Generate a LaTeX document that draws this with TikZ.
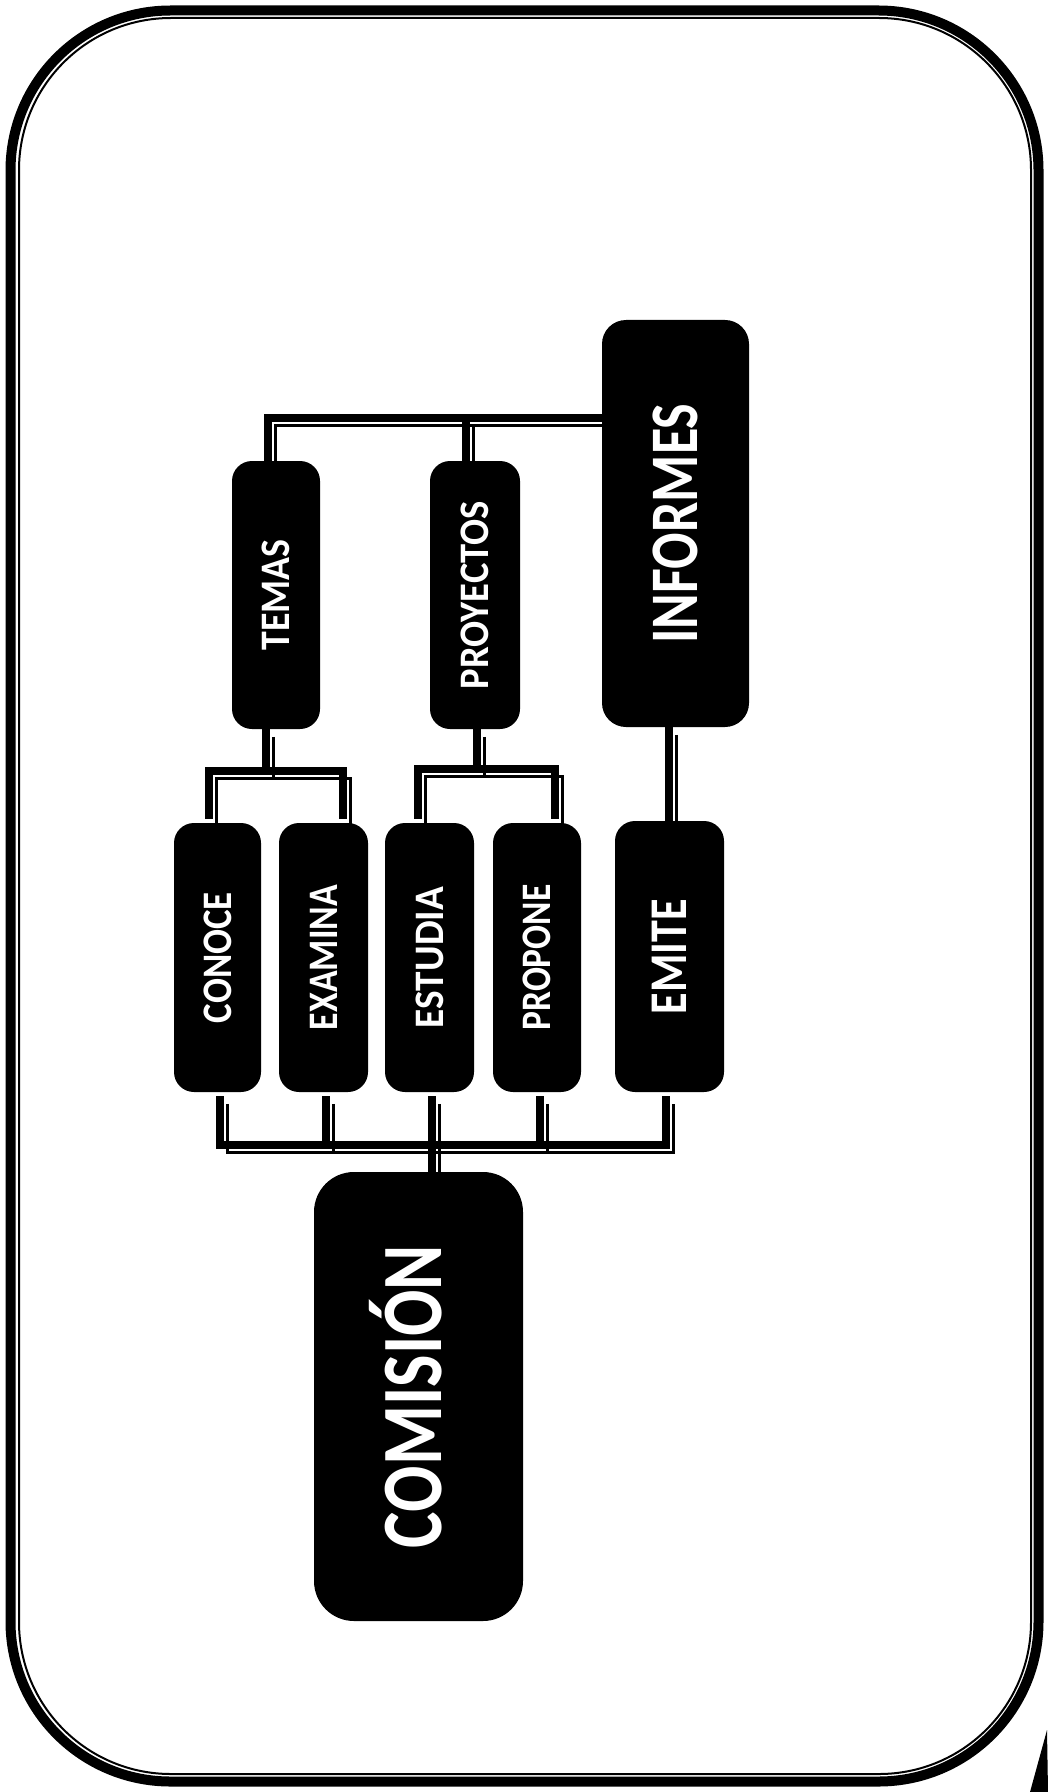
\documentclass[tikz,border=0pt]{standalone}
\usepackage{fontspec}
\setmainfont{Carlito}
\usetikzlibrary{backgrounds}
\newcommand\lbl[2]{\rotatebox{90}{\resizebox{#1}{\height}{#2}}}
\newcommand\lblc[3]{\rotatebox{90}{\raisebox{#3}[0pt][0pt]{\resizebox{#1}{\height}{#2}}}}
\newcommand\allconn{%
  \draw[conn] (informes.west |- tb) -| (tS);
  \draw[conn] (pS) -- (pS |- tb);
  \draw[conn] (tB) -- (tB |- b1);
  \draw[conn,shorten <=2pt,shorten >=2pt] (c1) -- (c1 |- b1) -- (e1 |- b1) -- (e1);
  \draw[conn] (pB) -- (pB |- b2);
  \draw[conn,shorten <=2pt,shorten >=2pt] (s1) -- (s1 |- b2) -- (p1 |- b2) -- (p1);
  \draw[conn] (iB) -- (iB |- emite.north);
  \draw[conn,shorten <=2pt,shorten >=2pt] (cS) -- (cS |- bb) -- (mS |- bb) -- (mS);
  \draw[conn,shorten <=2pt] (xS) -- (xS |- bb);
  \draw[conn,shorten <=2pt] (rS) -- (rS |- bb);
  \draw[conn,shorten <=2pt] (sS) -- (sS |- comision.north);
}
\begin{document}
\begin{tikzpicture}[x=0.5pt,y=-0.5pt,
  box/.style={fill=black, text=white, rounded corners=10pt, inner sep=0pt},
  smallbox/.style={box, font=\bfseries\fontsize{21}{25}\selectfont},
  bigbox/.style={box, rounded corners=12pt, font=\bfseries\fontsize{34}{39}\selectfont},
  midbox/.style={box, font=\bfseries\fontsize{26.5}{30}\selectfont},
  hugebox/.style={box, rounded corners=20pt, font=\bfseries\fontsize{43}{48}\selectfont}]
\useasboundingbox (0,0) rectangle (1048,1792);
% boxes
\node[smallbox, minimum width=44pt, minimum height=134pt] (temas) at (276,595) {\lbl{55.5pt}{TEMAS}};
\node[smallbox, minimum width=45pt, minimum height=134pt] (proyectos) at (475,595) {\lbl{94pt}{PROYECTOS}};
\node[bigbox, minimum width=73.5pt, minimum height=203.5pt] (informes) at (675.5,523.5) {\lbl{120pt}{INFORMES}};
\node[smallbox, minimum width=43.5pt, minimum height=134.5pt] (conoce) at (217.5,957.5) {\lbl{65.5pt}{CONOCE}};
\node[smallbox, minimum width=44.5pt, minimum height=134.5pt] (examina) at (323.5,957.5) {\lbl{72.5pt}{EXAMINA}};
\node[smallbox, minimum width=44.5pt, minimum height=134.5pt] (estudia) at (429.5,957.5) {\lbl{70.5pt}{ESTUDIA}};
\node[smallbox, minimum width=44pt, minimum height=134.5pt] (propone) at (537,957.5) {\lbl{73pt}{PROPONE}};
\node[midbox, minimum width=54.5pt, minimum height=135.5pt] (emite) at (669.5,956.5) {\lbl{57.5pt}{EMITE}};
\node[hugebox, minimum width=104.5pt, minimum height=224.5pt] (comision) at (418.5,1396.5) {\lblc{151.5pt}{COMISIÓN}{-11.5pt}};
% junction coordinates
\coordinate (tb) at (0,418);
\coordinate (b1) at (0,771);
\coordinate (b2) at (0,769);
\coordinate (bb) at (0,1145);
\coordinate (tS) at ([xshift=-4pt]temas.north);
\coordinate (pS) at ([xshift=-4.5pt]proyectos.north);
\coordinate (tB) at ([xshift=-5pt]temas.south);
\coordinate (pB) at ([xshift=1pt]proyectos.south);
\coordinate (c1) at ([xshift=-4.25pt]conoce.north);
\coordinate (e1) at ([xshift=9.75pt]examina.north);
\coordinate (s1) at ([xshift=-5.75pt]estudia.north);
\coordinate (p1) at ([xshift=9pt]propone.north);
\coordinate (iB) at ([xshift=-3.25pt]informes.south);
\coordinate (cS) at ([xshift=1.25pt]conoce.south);
\coordinate (xS) at ([xshift=1.25pt]examina.south);
\coordinate (sS) at ([xshift=1.25pt]estudia.south);
\coordinate (rS) at ([xshift=1.5pt]propone.south);
\coordinate (mS) at ([xshift=-1.75pt]emite.south);
\begin{scope}[on background layer]
  % frame
  \draw[line width=5pt, rounded corners=80pt] (10.5,10.5) rectangle (1038.5,1781.5);
  \draw[line width=1pt, rounded corners=76pt] (19,18) rectangle (1031,1774);
  \fill (1047,1730) -- (1030,1792) -- (1048,1792) -- cycle;
  % connectors: thin offset copy, then main thick line
  \begin{scope}[transform canvas={xshift=3.7pt,yshift=-3.7pt}, conn/.style={line width=1.1pt}]
    \allconn
  \end{scope}
  \begin{scope}[conn/.style={line width=4pt}]
    \allconn
  \end{scope}
\end{scope}
\end{tikzpicture}
\end{document}
